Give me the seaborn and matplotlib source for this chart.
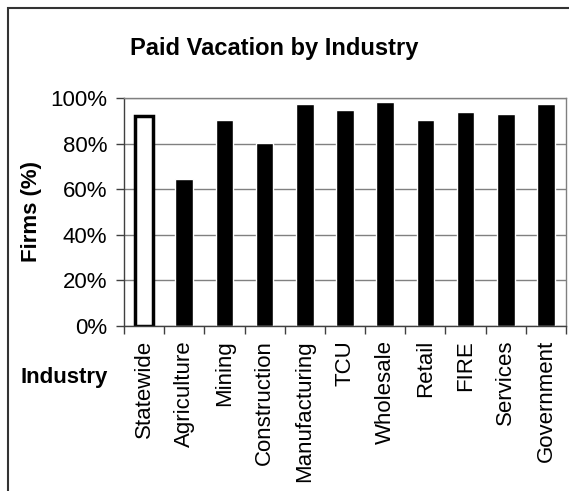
#!/usr/bin/env python3

import pandas as pd
import matplotlib.pyplot as plt
import seaborn as sns
from matplotlib.patches import Rectangle
from matplotlib.ticker import PercentFormatter, FixedLocator

industries = ['Statewide', 'Agriculture', 'Mining', 'Construction',
              'Manufacturing', 'TCU', 'Wholesale', 'Retail', 'FIRE',
              'Services', 'Government']
paid_vacation = [92.2, 64.3, 90.5, 80.1, 97.4, 94.9, 98.3, 90.5, 94.0,
                 93.0, 97.4]

df = pd.DataFrame({'Industry': industries, 'Firms': paid_vacation})

sns.set_style("white")
plt.rcParams['font.family'] = ['Liberation Sans', 'DejaVu Sans']
plt.rcParams['text.color'] = 'black'
plt.rcParams['axes.labelcolor'] = 'black'
plt.rcParams['xtick.color'] = 'black'
plt.rcParams['ytick.color'] = 'black'

fig = plt.figure(figsize=(5.69, 4.91), dpi=100)
ax = fig.add_axes([124 / 569, 1 - 326 / 491, 442 / 569, 228 / 491])

sns.barplot(
        x='Industry',
        y='Firms',
        data=df,
        color='black',
        width=0.44,
        saturation=1,
        ax=ax
        )

# statewide bar is hollow
first = ax.patches[0]
first.set_facecolor('white')
first.set_edgecolor('black')
first.set_linewidth(2.5)

ax.set_ylim(0, 100)
ax.set_xlim(-0.5, len(industries) - 0.5)
ax.set_yticks(range(0, 101, 20))
ax.yaxis.set_major_formatter(PercentFormatter(decimals=0))
ax.yaxis.grid(True, color='#808080', linewidth=1)
ax.set_axisbelow(True)

ax.xaxis.set_minor_locator(FixedLocator(
        [i + 0.5 for i in range(-1, len(industries))]))
ax.tick_params(axis='x', which='major', length=0, pad=10,
               labelsize=16, rotation=90)
ax.tick_params(axis='x', which='minor', length=6, width=1,
               color='#404040', direction='out', bottom=True)
ax.tick_params(axis='y', length=6, width=1, color='#404040',
               direction='out', left=True, pad=6, labelsize=16)

for side in ['top', 'right']:
    ax.spines[side].set_color('#808080')
for side in ['left', 'bottom']:
    ax.spines[side].set_color('#404040')
for s in ax.spines.values():
    s.set_linewidth(1)

ax.set_xlabel('')
ax.set_ylabel('Firms (%)', fontsize=16, fontweight='bold', labelpad=6)
fig.text(20 / 569, 1 - 378 / 491, 'Industry', fontsize=16,
         fontweight='bold', ha='left', va='center')
fig.text(274 / 569, 1 - 49 / 491, 'Paid Vacation by Industry',
         fontsize=17, fontweight='bold', ha='center', va='center')

# outer chart frame, cropped at right and bottom
fig.patches.append(Rectangle((7.5 / 569, -0.1), 1.2, 1 - 7.5 / 491 + 0.1,
                             transform=fig.transFigure, fill=False,
                             edgecolor='#333333', linewidth=1.5))

fig.savefig('out.png', dpi=100)
